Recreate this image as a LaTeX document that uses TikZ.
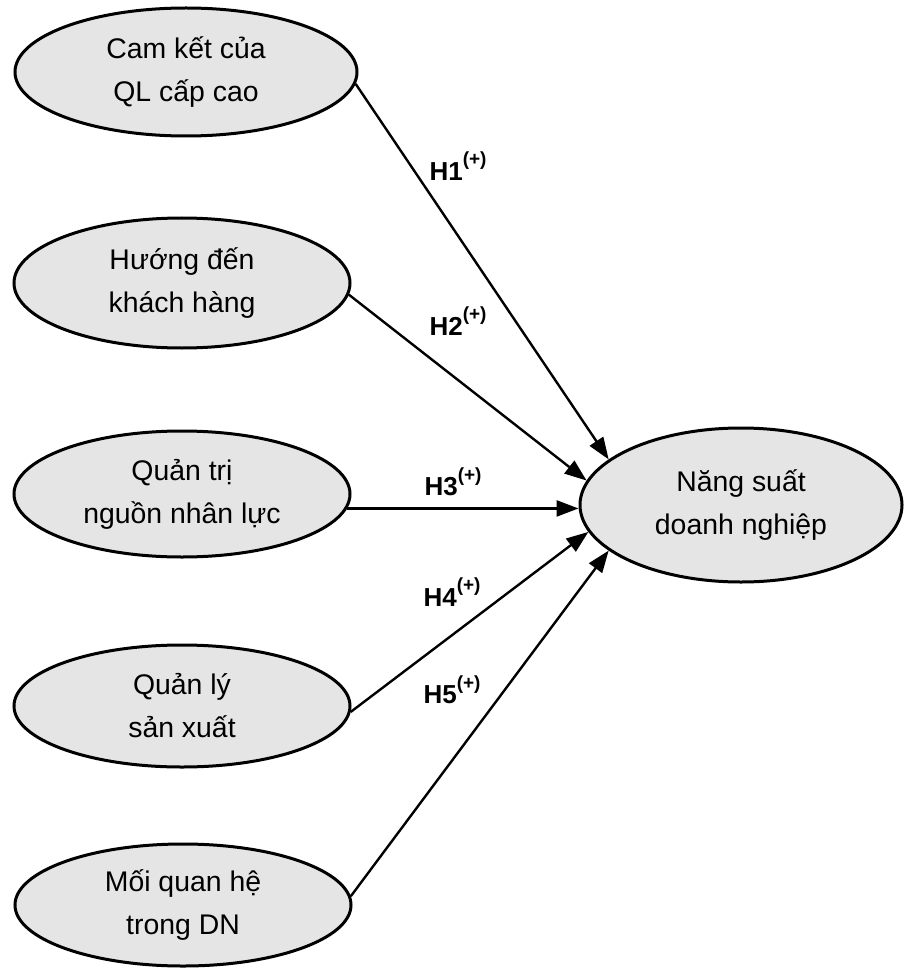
\documentclass[tikz,border=0pt]{standalone}
\usepackage{fontspec}
\setmainfont{Liberation Sans}
\usetikzlibrary{shapes.geometric,arrows.meta}
\definecolor{ellfill}{gray}{0.9}
\newcommand{\hyp}[1]{H#1\raisebox{0.55em}{\fontsize{9.5}{10}\selectfont(+)}}
\begin{document}
\begin{tikzpicture}[x=0.5pt,y=-0.5pt,
  src/.style={ellipse,draw=black,line width=1.5pt,fill=ellfill,minimum width=168pt,minimum height=63pt,inner sep=0pt,align=center,font=\fontsize{14.2}{21.5}\selectfont},
  tgt/.style={src,minimum width=161pt,minimum height=77pt},
  link/.style={line width=1.2pt,-{Triangle[length=11pt,width=8pt]}},
  hlab/.style={font=\fontsize{13}{14}\selectfont\bfseries,inner sep=0pt}]
\useasboundingbox (0,0) rectangle (918,973);
\node[src,minimum width=171pt,minimum height=64pt] (e1) at (186,72) {Cam kết của\\QL cấp cao};
\node[src,minimum height=65pt] (e2) at (182,283) {Hướng đến\\khách hàng};
\node[src] (e3) at (182,494) {Quản trị\\nguồn nhân lực};
\node[src,minimum height=61pt] (e4) at (182,706) {Quản lý\\sản xuất};
\node[src,minimum height=61pt] (e5) at (183,905) {Mối quan hệ\\trong DN};
\node[tgt] (t) at (741,505) {Năng suất\\doanh nghiệp};
\draw[link] (e1.-4.3) -- (t.161);
\draw[link] (e2.-4.5) -- (t.171);
\draw[link] (e3.-5) -- (e3.-5 -| t.west);
\draw[link] (e4.-2.5) -- (t.190);
\draw[link] (e5.3.5) -- (t.199);
\node[hlab] (l1) at (458,166) {\hyp{1}};
\node[hlab] (l2) at (458,321) {\hyp{2}};
\node[hlab] (l3) at (453,482) {\hyp{3}};
\node[hlab] (l4) at (452,592) {\hyp{4}};
\node[hlab] (l5) at (452,690) {\hyp{5}};
\end{tikzpicture}
\end{document}
